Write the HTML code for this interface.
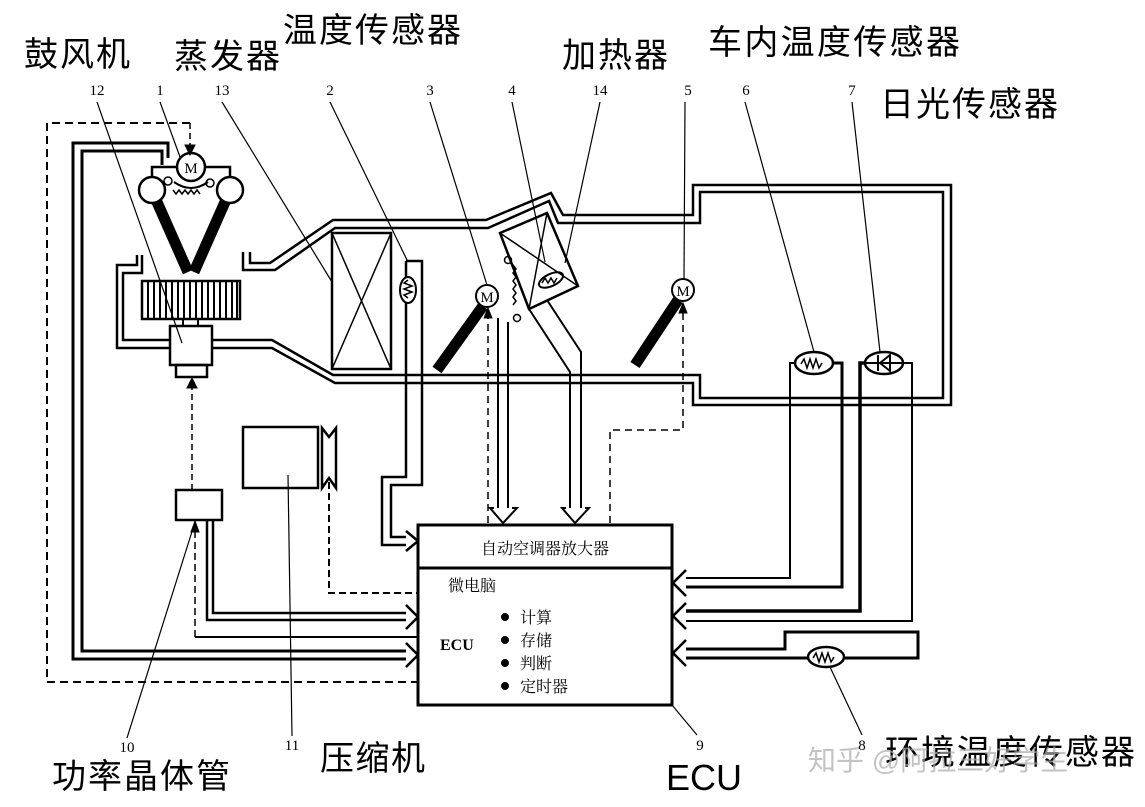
<!DOCTYPE html>
<html><head><meta charset="utf-8"><style>
html,body{margin:0;padding:0;background:#fff;}
svg{display:block;}
.cn{font-family:"Liberation Sans","Noto Sans CJK SC",sans-serif;fill:#000;}
.num{font-family:"Liberation Serif",serif;font-size:15px;fill:#000;text-anchor:middle;}
.m{font-family:"Liberation Serif",serif;font-size:15px;fill:#000;text-anchor:middle;}
</style></head><body>
<svg width="1145" height="807" viewBox="0 0 1145 807" xmlns="http://www.w3.org/2000/svg">
<rect width="1145" height="807" fill="#fff"/>
<g fill="none" stroke="#000">
<path d="M190,123 H47 V682 H418" stroke-width="2" stroke-dasharray="8,5"/>
<path d="M190,123 V150" stroke-width="1.5" stroke-dasharray="6,4"/>
<path d="M185,145 L190,155 L195,145 Z" fill="#000"/>
<path d="M168,158 V143 H73 V659 H408" stroke-width="3"/>
<path d="M162,165 V151 H82 V651 H408" stroke-width="3"/>
<path d="M406,643 L418,655 L406,667" stroke-width="2.5" fill="#fff"/>
<circle cx="191" cy="167" r="14" stroke-width="2.5"/>
<path d="M152,178 V167 H177 M205,167 H230 V178" stroke-width="2.5"/>
<circle cx="152" cy="190" r="13" stroke-width="2.5"/>
<circle cx="230" cy="190" r="13" stroke-width="2.5"/>
<path d="M174,182 Q191,194 208,182" stroke-width="2"/>
<circle cx="168" cy="181" r="4" stroke-width="1.5"/>
<circle cx="210" cy="183" r="4" stroke-width="1.5"/>
<path d="M173,190 l3,4 l3,-4 l3,4 l3,-4 l3,4 l3,-4 l3,4 l3,-4 l3,4" stroke-width="1.5"/>
<path d="M157,202 L188,272 M225,202 L194,272" stroke-width="11"/>
<path d="M137,255 V265 H117 V348 H172" stroke-width="2.5"/>
<path d="M142,255 V273 H123 V340 H172" stroke-width="2.5"/>
<rect x="142" y="281" width="98" height="38" stroke-width="2.5"/>
<path d="M148,281V319M154,281V319M160,281V319M166,281V319M172,281V319M178,281V319M184,281V319M190,281V319M196,281V319M202,281V319M208,281V319M214,281V319M220,281V319M226,281V319M232,281V319M237,281V319" stroke-width="2"/>
<rect x="183" y="319" width="15" height="7" stroke-width="2"/>
<rect x="170" y="326" width="42" height="39" stroke-width="2.5" fill="#fff"/>
<rect x="176" y="365" width="31" height="12" stroke-width="2.5"/>
<path d="M192,490 V382" stroke-width="1.5" stroke-dasharray="6,4"/>
<path d="M187,388 L192,378 L197,388 Z" fill="#000"/>
<path d="M250,252 V263 H270 L333,220 H486 L551,193 L563,215 H693 V185 H951 V405 H693 V383 H335 L272,348 H212" stroke-width="2.5"/>
<path d="M243,252 V270 H275 L335,228 H488 L549,201 L558,223 H700 V192 H943 V398 H700 V375 H333 L272,340 H212" stroke-width="2.5"/>
<rect x="332" y="233" width="59" height="136" stroke-width="2.5" fill="#fff"/>
<path d="M332,233 L391,369 M391,233 L332,369" stroke-width="1.5"/>
<path d="M406,261 H422 V485 H391 V537 H408" stroke-width="2.5"/>
<path d="M406,261 V477 H382 V545 H408" stroke-width="2.5"/>
<ellipse cx="408" cy="290" rx="8" ry="13" stroke-width="2" fill="#fff"/>
<path d="M408,280 l-4,3 l8,3 l-8,3 l8,3 l-8,3 l4,3" stroke-width="1.5"/>
<path d="M406,531 L418,541 L406,551" stroke-width="2.5" fill="#fff"/>
<path d="M500,233 L547,213 L578,286 L529,309 Z" stroke-width="2.5" fill="#fff"/>
<path d="M500,233 L578,286 M547,213 L529,309" stroke-width="1.5"/>
<ellipse cx="551" cy="280" rx="13" ry="6" transform="rotate(-25 551 280)" stroke-width="2"/>
<path d="M542,283 l3,-5 l3,5 l3,-5 l3,5 l3,-5" stroke-width="1.5"/>
<path d="M513,265 l3,4 l-3,4 l3,4 l-3,4 l3,4 l-3,4 l3,4 l-3,4 l3,4 l-3,4" stroke-width="1.5"/>
<circle cx="508" cy="260" r="3.5" stroke-width="1.5"/>
<circle cx="517" cy="318" r="3.5" stroke-width="1.5"/>
<path d="M529,309 L570,372 V508" stroke-width="2"/>
<path d="M547,300 L581,352 V508" stroke-width="2"/>
<path d="M566,508 H562 L575,523 L589,508 H585" stroke-width="2" fill="#fff"/>
<path d="M498,318 V508 M508,322 V508" stroke-width="2"/>
<path d="M494,508 H490 L503,523 L517,508 H512" stroke-width="2" fill="#fff"/>
<path d="M483,306 L437,370" stroke-width="11"/>
<circle cx="487" cy="296" r="11" stroke-width="2" fill="#fff"/>
<path d="M678,300 L635,365" stroke-width="11"/>
<circle cx="683" cy="290" r="11" stroke-width="2" fill="#fff"/>
<path d="M488,523 V312" stroke-width="1.5" stroke-dasharray="7,5"/>
<path d="M484,318 L488,308 L492,318 Z" fill="#000"/>
<path d="M610,523 V430 H683 V307" stroke-width="1.5" stroke-dasharray="7,5"/>
<path d="M679,313 L683,303 L687,313 Z" fill="#000"/>
<rect x="176" y="490" width="46" height="30" stroke-width="2.5"/>
<path d="M213,520 V613 H408 M207,520 V620 H408" stroke-width="2.5"/>
<path d="M406,605 L418,617 L406,629" stroke-width="2.5" fill="#fff"/>
<path d="M195,637 V528" stroke-width="1.5" stroke-dasharray="7,4"/>
<path d="M191,532 L195,521 L199,532 Z" fill="#000"/>
<path d="M195,637 H418" stroke-width="2"/>
<rect x="243" y="427" width="75" height="61" stroke-width="2.5"/>
<path d="M322,428 L329,437 L336,428 V488 L329,478 L322,488 Z" stroke-width="2.5"/>
<path d="M329,482 V593 H418" stroke-width="2" stroke-dasharray="7,4"/>
<rect x="418" y="525" width="254" height="180" stroke-width="3" fill="#fff"/>
<path d="M418,568 H672" stroke-width="3"/>
<ellipse cx="814" cy="363" rx="19" ry="11" stroke-width="2.5" fill="#fff"/>
<path d="M801,364 l3,-5 l3,9 l3,-9 l3,9 l3,-9 l3,9 l3,-5" stroke-width="1.5"/>
<ellipse cx="884" cy="363" rx="19" ry="11" stroke-width="2.5" fill="#fff"/>
<path d="M866,363 H902 M878,355 V371 M890,355 L880,363 L890,371 Z" stroke-width="2"/>
<path d="M795,363 H790 V578 H684" stroke-width="2"/>
<path d="M833,363 H842 V587 H684" stroke-width="3"/>
<path d="M865,363 H860 V611 H684" stroke-width="3.5"/>
<path d="M903,363 H912 V621 H684" stroke-width="2"/>
<path d="M684,649 H785 V632 H918 V658 H684" stroke-width="3"/>
<ellipse cx="826" cy="657" rx="18" ry="10" stroke-width="2.5" fill="#fff"/>
<path d="M813,658 l3,-5 l3,9 l3,-9 l3,9 l3,-9 l3,9 l3,-5" stroke-width="1.5"/>
<path d="M686,570 L673,583 L686,596 M686,603 L673,616 L686,629 M686,640 L673,653 L686,666" stroke-width="2.5" fill="#fff"/>
<g stroke-width="1.2">
<path d="M97,102 L182,343"/><path d="M160,102 L180,157"/><path d="M222,102 L332,282"/>
<path d="M330,102 L408,262"/><path d="M430,102 L487,285"/><path d="M512,102 L545,262"/>
<path d="M600,102 L565,263"/><path d="M685,102 L684,279"/><path d="M745,102 L814,352"/>
<path d="M852,102 L880,352"/><path d="M127,738 L195,522"/><path d="M292,736 L288,475"/>
<path d="M697,735 L672,705"/><path d="M862,735 L830,667"/>
</g>
</g>
<text class="m" x="191" y="173">M</text>
<text class="m" x="487" y="302" font-size="13">M</text>
<text class="m" x="683" y="296" font-size="13">M</text>
<g class="cn">
<text x="545" y="554" font-size="16" text-anchor="middle" font-family="Noto Serif CJK SC,serif">自动空调器放大器</text>
<text x="448" y="591" font-size="16" font-family="Noto Serif CJK SC,serif">微电脑</text>
<text x="440" y="650" font-size="16" font-weight="bold" font-family="Liberation Serif,serif">ECU</text>
<circle cx="505" cy="617" r="4"/><circle cx="505" cy="640" r="4"/><circle cx="505" cy="663" r="4"/><circle cx="505" cy="686" r="4"/>
<text x="520" y="623" font-size="16" font-family="Noto Serif CJK SC,serif">计算</text>
<text x="520" y="646" font-size="16" font-family="Noto Serif CJK SC,serif">存储</text>
<text x="520" y="669" font-size="16" font-family="Noto Serif CJK SC,serif">判断</text>
<text x="520" y="692" font-size="16" font-family="Noto Serif CJK SC,serif">定时器</text>
</g>
<g class="cn" font-size="34">
<text x="24" y="66" textLength="106">鼓风机</text>
<text x="174" y="68" textLength="106">蒸发器</text>
<text x="283" y="42" textLength="178">温度传感器</text>
<text x="562" y="67" textLength="106">加热器</text>
<text x="708" y="54" textLength="252">车内温度传感器</text>
<text x="880" y="116" textLength="178">日光传感器</text>
<text x="52" y="788" textLength="178">功率晶体管</text>
<text x="320" y="770" textLength="105">压缩机</text>
<text x="885" y="764" textLength="250">环境温度传感器</text>
<text x="666" y="790" font-size="36" font-family="Liberation Sans,sans-serif">ECU</text>
<text x="808" y="770" font-size="28" style="fill:#aaa;opacity:0.7">知乎 @阿拉三好学生</text>
</g>
<g class="num">
<text x="97" y="95">12</text><text x="160" y="95">1</text><text x="222" y="95">13</text>
<text x="330" y="95">2</text><text x="430" y="95">3</text><text x="512" y="95">4</text>
<text x="600" y="95">14</text><text x="688" y="95">5</text><text x="746" y="95">6</text>
<text x="852" y="95">7</text>
<text x="127" y="752">10</text><text x="292" y="750">11</text><text x="700" y="750">9</text><text x="862" y="750">8</text>
</g>
</svg>
</body></html>
